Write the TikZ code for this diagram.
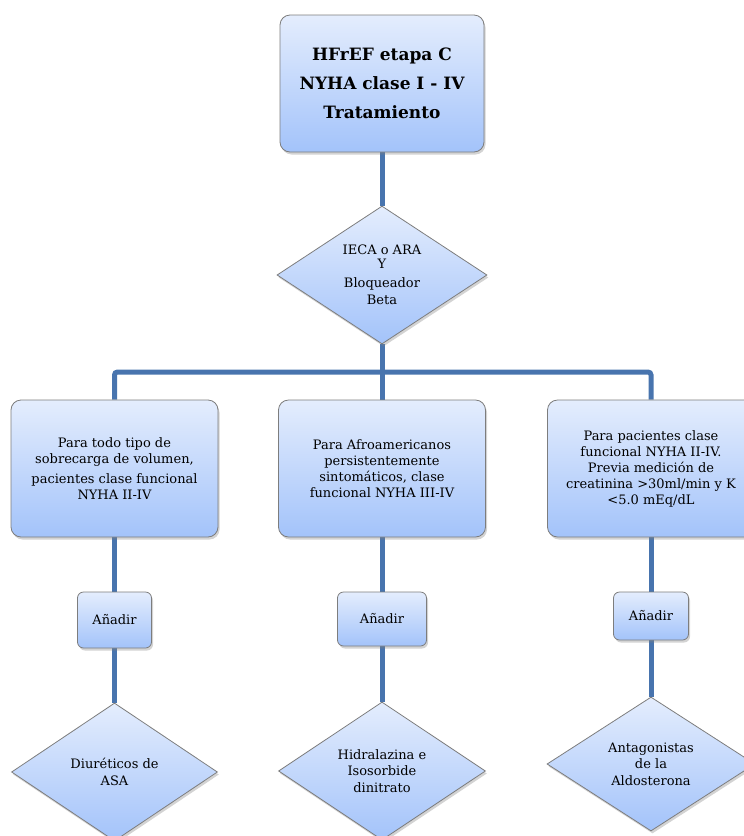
\documentclass[tikz,border=0pt]{standalone}
\usepackage{fontspec}
\setmainfont{DejaVu Serif}
\usetikzlibrary{shapes.geometric,shadows,backgrounds}

\definecolor{paletop}{RGB}{228,237,253}
\definecolor{palebottom}{RGB}{163,195,250}
\definecolor{edgegray}{RGB}{125,125,125}
\definecolor{linkblue}{RGB}{72,116,174}

\tikzset{
  boxbase/.style={draw=edgegray, line width=0.8pt, top color=paletop, bottom color=palebottom,
    drop shadow={shadow xshift=1.5pt, shadow yshift=-2.5pt, opacity=0.35}, align=center},
  bigbox/.style={boxbase, rectangle, rounded corners=10pt, minimum width=207pt, minimum height=137pt,
    inner sep=2pt, font=\fontsize{13}{16}\selectfont},
  titlebox/.style={bigbox, minimum width=204pt, font=\fontsize{17}{29}\selectfont\bfseries},
  addbox/.style={boxbase, rectangle, rounded corners=6pt, inner sep=0pt, font=\fontsize{13}{16}\selectfont},
  choice/.style={boxbase, diamond, inner sep=0pt, font=\fontsize{13}{16.5}\selectfont},
  link/.style={draw=linkblue, line width=5pt}
}

\begin{document}
\begin{tikzpicture}[x=1pt, y=-1pt]

\useasboundingbox (0,0) rectangle (744,836);

\node[titlebox] (title) at (382,83.5) {HFrEF etapa C\\NYHA clase I - IV\\Tratamiento};

\node[choice, minimum width=210pt, minimum height=136pt] (base) at (382,275)
  {IECA o ARA\\[-3pt]Y\\[3pt]Bloqueador\\Beta};

\coordinate (split) at (382,372);

\node[bigbox] (volumen) at (114.5,468.5)
  {Para todo tipo de\\sobrecarga de volumen,\\[4pt]pacientes clase funcional\\NYHA II-IV};
\node[bigbox] (afro) at (382,468.5)
  {Para Afroamericanos\\persistentemente\\sintomáticos, clase\\funcional NYHA III-IV};
\node[bigbox] (renal) at (651,468.5)
  {Para pacientes clase\\funcional NYHA II-IV.\\Previa medición de\\creatinina >30ml/min y K\\<5.0 mEq/dL};

\node[addbox, minimum width=74pt, minimum height=56pt] (addA) at (114.5,620) {Añadir};
\node[addbox, minimum width=89pt, minimum height=54pt] (addB) at (382,619) {Añadir};
\node[addbox, minimum width=75pt, minimum height=48pt] (addC) at (651,616) {Añadir};

\node[choice, minimum width=206pt, minimum height=138pt] (asa) at (114.5,772) {Diuréticos de\\ASA};
\node[choice, minimum width=207pt, minimum height=138pt] (hidra) at (382,771) {Hidralazina e\\Isosorbide\\dinitrato};
\node[choice, minimum width=208pt, minimum height=134pt] (aldo) at (651,764) {Antagonistas\\de la\\Aldosterona};

\begin{scope}[on background layer]
\draw[link] (title) -- (base);
\draw[link] (base.south) -- (split);
\draw[link] (split) -- (afro.north);
\draw[link, rounded corners=3pt] (volumen.north) |- (split) -| (renal.north);
\draw[link] (volumen) -- (addA);
\draw[link] (addA) -- (asa);
\draw[link] (afro) -- (addB);
\draw[link] (addB) -- (hidra);
\draw[link] (renal) -- (addC);
\draw[link] (addC) -- (aldo);
\end{scope}

\end{tikzpicture}
\end{document}
